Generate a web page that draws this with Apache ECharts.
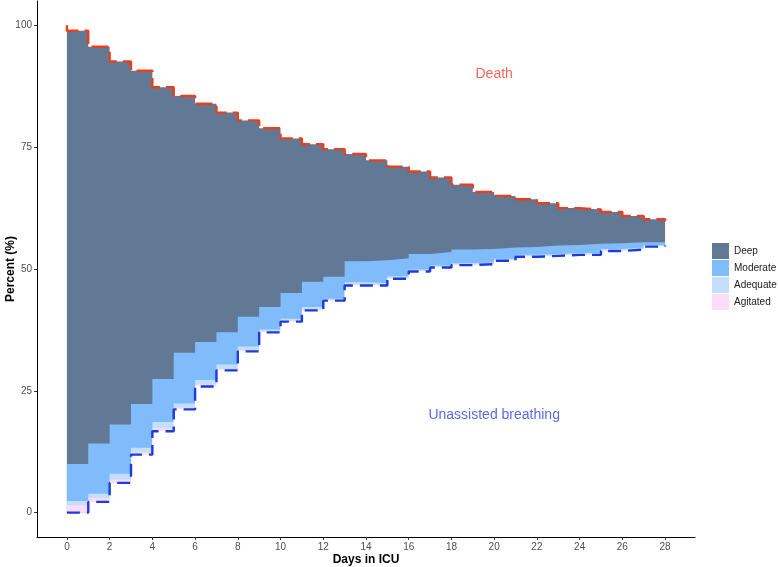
<!DOCTYPE html>
<html>
<head>
<meta charset="utf-8">
<script src="https://cdn.jsdelivr.net/npm/echarts@6/dist/echarts.min.js"></script>
<style>html,body{margin:0;padding:0;background:#fff}#c{width:778px;height:567px}</style>
</head>
<body>
<div id="c"></div>
<script>
// Days in ICU
const days = [0,1,2,3,4,5,6,7,8,9,10,11,12,13,14,15,16,17,18,19,20,21,22,23,24,25,26,27,28];
// Percent of patients in each state per day
const unassisted = [0,2.2,6.1,11.9,16.7,21.2,25.9,29.2,33.1,37.0,39.2,41.5,43.5,46.6,46.6,48.0,49.5,50.3,50.8,51.0,51.7,52.5,52.7,52.9,52.9,53.7,54.0,54.6,54.8];
const agitated   = [1.5,0.8,0.7,0.5,0.6,0.4,0.4,0.3,0.3,0.2,0.2,0.2,0.1,0.2,0.1,0.1,0.1,0.1,0.1,0.1,0.1,0.1,0.1,0.1,0.1,0.1,0.1,0.1,0.1];
const adequate   = [0.9,0.9,1.2,0.9,1.3,0.8,0.9,0.9,0.7,0.4,0.4,0.5,0.3,0.5,0.4,0.4,0.3,0.3,0.3,0.3,0.3,0.3,0.3,0.3,0.3,0.3,0.3,0.2,0.2];
const moderate   = [7.6,10.3,10.1,9.0,8.8,10.4,7.8,6.6,6.1,4.6,5.3,5.2,4.5,4.3,4.7,3.7,3.2,2.8,2.8,2.7,2.3,1.6,1.7,1.6,1.9,1.2,1.1,0.6,0.5];
const deep       = [88.9,81.4,74.5,68.4,59.9,52.7,48.9,45.1,40.3,36.7,31.7,28.2,26.2,22.0,20.5,18.8,16.9,15.3,13.3,11.7,10.6,9.8,8.7,7.6,7.0,6.4,5.4,4.7,4.2];
const death      = [1.1,4.4,7.4,9.3,12.7,14.5,16.1,17.9,19.5,21.1,23.2,24.4,25.4,26.4,27.7,29.0,30.0,31.2,32.7,34.2,35.0,35.7,36.5,37.5,37.8,38.3,39.1,39.8,40.2];
const xTicks = [0,2,4,6,8,10,12,14,16,18,20,22,24,26,28];
const yTicks = [0,25,50,75,100];
const stateNames = ['Deep','Moderate','Adequate','Agitated'];
const stateColors = ['#627995','#80bbfc','#c3defe','#fcdcfb'];

// cumulative boundaries (stacked from the bottom)
const cum = (arrs) => days.map((d,i)=>arrs.reduce((s,a)=>s+a[i],0));
const bAg  = cum([unassisted, agitated]);
const bAd  = cum([unassisted, agitated, adequate]);
const bMo  = cum([unassisted, agitated, adequate, moderate]);
const bDe  = cum([unassisted, agitated, adequate, moderate, deep]);
const pts = (arr) => days.map((d,i)=>[d, +arr[i].toFixed(2)]);
const deathLine = [[0,100]].concat(days.map((d,i)=>[d, +(100-death[i]).toFixed(2)]));

function area(name, data, color){
  return {name, type:'line', step:'end', data, symbol:'none', silent:true,
    lineStyle:{width:0}, areaStyle:{color, opacity:1}, itemStyle:{color}};
}

const chart = echarts.init(document.getElementById('c'), null, {renderer:'canvas'});
chart.setOption({
  animation:false,
  backgroundColor:'#fff',
  textStyle:{fontFamily:'Liberation Sans, Arial, sans-serif'},
  grid:{left:37, right:83, top:1, bottom:30, containLabel:false, outerBoundsMode:'none'},
  legend:{
    orient:'vertical', left:712, top:243, padding:0, itemWidth:17, itemHeight:16, itemGap:1,
    icon:'rect', data:stateNames, selectedMode:false,
    textStyle:{fontSize:10, color:'#1a1a1a', fontFamily:'Liberation Sans, Arial, sans-serif'}
  },
  xAxis:{
    type:'value', min:-1.4, max:29.4,
    name:'Days in ICU', nameLocation:'middle', nameGap:17, nameMoveOverlap:false,
    nameTextStyle:{fontWeight:'bold', fontSize:12, color:'#000', verticalAlign:'top'},
    axisLine:{onZero:false, lineStyle:{color:'#000', width:1}},
    axisTick:{show:true, length:3, lineStyle:{color:'#333'}, customValues:xTicks},
    axisLabel:{customValues:xTicks, fontSize:10, color:'#4d4d4d', margin:5},
    splitLine:{show:false}
  },
  yAxis:{
    type:'value', min:-5, max:105,
    name:'Percent (%)', nameLocation:'middle', nameGap:20, nameRotate:90, nameMoveOverlap:false,
    nameTextStyle:{fontWeight:'bold', fontSize:12, color:'#000'},
    axisLine:{show:true, onZero:false, lineStyle:{color:'#000', width:1}},
    axisTick:{show:true, length:3, lineStyle:{color:'#333'}, customValues:yTicks},
    axisLabel:{customValues:yTicks, fontSize:10, color:'#4d4d4d', margin:5},
    splitLine:{show:false}
  },
  series:[
    area('Deep', pts(bDe), stateColors[0]),
    area('Moderate', pts(bMo), stateColors[1]),
    area('Adequate', pts(bAd), stateColors[2]),
    area('Agitated', pts(bAg), stateColors[3]),
    {name:'base', type:'line', step:'end', data:pts(unassisted), symbol:'none', silent:true,
      lineStyle:{width:0},
      areaStyle:{color:'#ffffff', opacity:1, shadowColor:'#ffffff', shadowBlur:0, shadowOffsetX:1.5}},
    {name:'Death line', type:'line', step:'end', data:deathLine, symbol:'none', silent:true,
      lineStyle:{color:'#e8401f', width:2.4, type:[17,6], cap:'butt'}, z:5},
    {name:'Unassisted line', type:'line', step:'end', data:pts(unassisted), symbol:'none', silent:true,
      lineStyle:{color:'#1b3be0', width:2.4, type:[13,7], cap:'butt'}, z:5},
    {name:'labels', type:'scatter', symbolSize:0, silent:true, z:6,
      data:[
        {value:[20,90], label:{show:true, formatter:'Death', color:'#e8432d', fontSize:14, position:'inside'}},
        {value:[20,20], label:{show:true, formatter:'Unassisted breathing', color:'#2e45dd', fontSize:14, position:'inside'}}
      ]}
  ]
});
</script>
</body>
</html>
